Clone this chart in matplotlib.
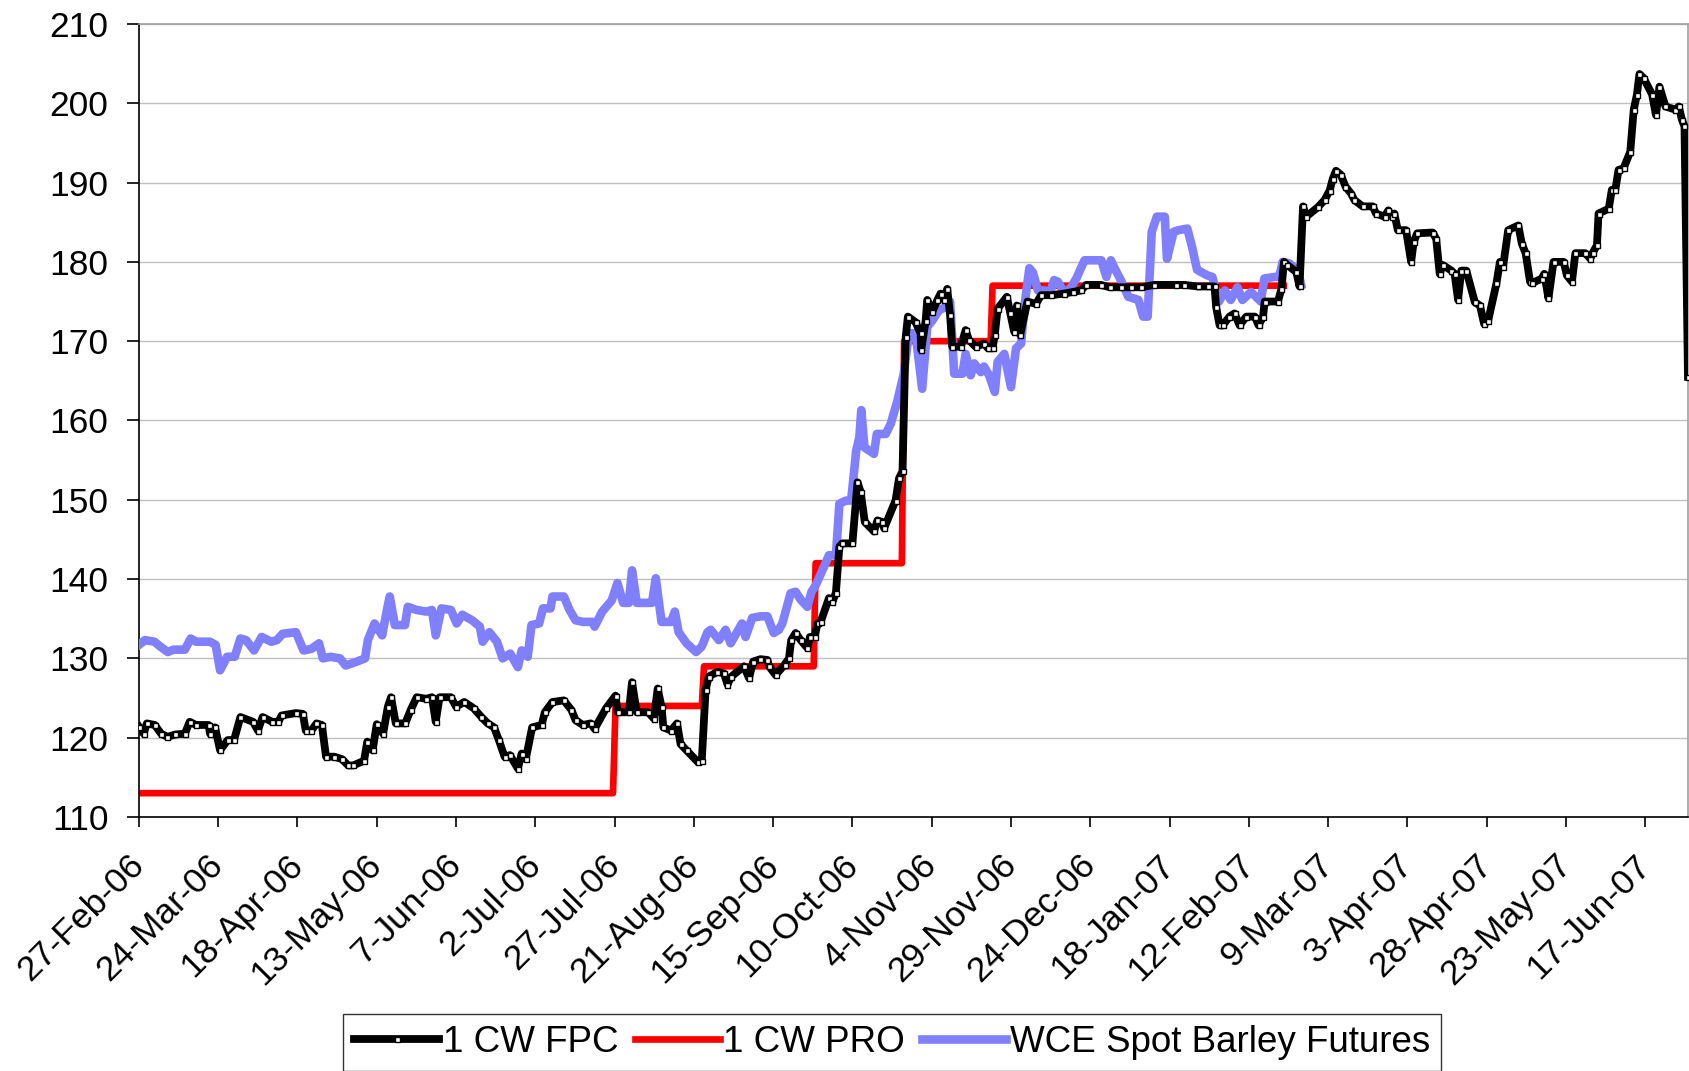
import numpy as np
import matplotlib
matplotlib.use("Agg")
import matplotlib.pyplot as plt
import matplotlib.dates as mdates
import datetime as dt

plt.rcParams['font.family'] = ['Liberation Sans', 'DejaVu Sans']

start_date = dt.date(2006, 2, 27)

# 1 CW FPC: day offset from 27-Feb-06, value
fpc_day = [0, 1.5, 2.5, 5, 7, 9, 11.5, 14.5, 16, 18, 22, 22.4, 24, 25.6, 28, 30, 32, 36, 37.5, 39,
           42, 44, 45, 49.5, 51.7, 52.6, 54.4, 56, 57.7, 59, 61.6, 64, 66, 67.6, 71, 72, 73.7, 75, 77, 78.5,
           79.5, 81, 84, 85.7, 87.6, 90.6, 92.4, 93.6, 94.8, 98.4, 100, 102.6, 105.6, 108, 110, 112, 113.5,
           115.3, 117, 119.5, 120.7, 122, 124, 127, 128, 130.4, 134, 136.4, 137.7, 140, 142.5, 143.7, 147.3,
           150.3, 151, 154.5, 155.5, 157, 160.6, 162.4, 163.6, 164.8, 165.4, 167.8, 169.7, 170.8, 172.7,
           176.3, 177.5, 178.7, 179.7, 182.4, 184.5, 185.6, 186.8, 190.8, 192.4, 193.7, 196, 198.2, 198.7,
           200.8, 203.6, 205, 205.7, 207.1, 208.7, 210.8, 211.6, 213.1, 214, 215, 217.6, 218.7, 219.8, 220.9,
           221.8, 225, 226.6, 227.6, 228.9, 231.8, 232.9, 234.4, 235, 238.6, 239.7, 240.8, 241.8, 242.5,
           244.9, 246.5, 246.7, 248.1, 248.6, 250.2, 251.8, 252.8, 253.9, 254.9, 255.8, 256.5, 259.2, 260.7,
           261.8, 263.9, 266.5, 267.8, 269.2, 269.9, 270.8, 273.7, 274.8, 276, 276.9, 277.9, 280.2, 282.9,
           284.5, 287.6, 291.8, 294.5, 297.1, 298.7, 303.4, 306.1, 309.8, 312.9, 316.1, 320.2, 327.1, 329.7,
           333.9, 337.1, 339.2, 339.7, 340.8, 341.8, 343.9, 345.5, 347.1, 349.2, 351.9, 353.1, 354.5, 355,
           359.2, 360.3, 361.1, 362.2, 365, 366, 367.1, 368.1, 371.8, 373.9, 375.5, 376.5, 377.5, 379, 380.5,
           382.3, 383.3, 385.9, 389.1, 390.1, 392.8, 394, 395.1, 395.9, 397, 399.6, 401.2, 402, 403.1, 408,
           409.1, 410.2, 411.2, 413.9, 414.9, 416, 417, 418.6, 421.3, 422.9, 424.2, 425.5, 428.1, 429.2,
           430.2, 431.8, 435, 436.1, 437.3, 438.7, 439.2, 442.4, 443.2, 444.5, 446.1, 449.3, 450.3, 451.9,
           453, 456.1, 457.7, 458.4, 459.8, 460.3, 463.5, 464.5, 465.6, 466.6, 468.2, 470.3, 471.4, 472.4,
           473.2, 474.5, 477.2, 478.4, 479.5, 481.4, 484.5, 485.6, 486.6, 487.4, 488.5]
fpc_val = [121.4, 120.5, 121.8, 121.6, 120.5, 120.1, 120.4, 120.5, 122.0, 121.6, 121.6, 120.5, 121.3, 118.4,
           119.7, 119.7, 122.6, 122.0, 120.9, 122.6, 122.0, 122.0, 122.8, 123.1, 123.0, 120.9, 120.9, 121.8,
           121.6, 117.6, 117.6, 117.3, 116.5, 116.5, 117.1, 119.5, 118.4, 121.7, 120.5, 123.9, 125.1, 121.8,
           121.8, 123.5, 125.1, 124.9, 125.1, 122.0, 125.1, 125.1, 123.9, 124.5, 123.7, 122.6, 121.8, 121.3,
           119.7, 117.6, 117.8, 116.1, 118.0, 117.3, 121.3, 121.6, 123.2, 124.5, 124.7, 123.5, 122.2, 121.6,
           121.8, 121.1, 123.7, 125.3, 123.2, 123.2, 127.0, 123.2, 123.2, 122.4, 126.2, 123.9, 121.3, 120.9,
           121.8, 119.2, 118.4, 116.9, 117.1, 126.0, 127.7, 128.3, 128.1, 126.7, 127.7, 129.0, 127.5, 129.6,
           129.9, 129.8, 129.0, 127.9, 129.2, 130.0, 132.3, 133.2, 132.3, 131.3, 132.7, 132.7, 134.4, 134.6,
           137.6, 137.1, 138.3, 144.1, 144.5, 144.5, 152.2, 151.0, 147.2, 146.0, 147.4, 147.2, 146.4, 149.9,
           152.7, 153.6, 170.5, 173.1, 172.4, 171.0, 168.9, 172.6, 175.2, 173.7, 175.2, 176.0, 175.2, 176.6,
           173.3, 169.3, 169.3, 171.4, 170.1, 169.3, 169.7, 169.1, 169.1, 170.8, 174.1, 175.6, 173.5, 171.2,
           174.5, 170.8, 175.0, 174.7, 175.8, 175.8, 176.0, 176.2, 176.4, 177.1, 177.1, 176.8, 176.8, 176.8,
           176.8, 177.1, 177.1, 177.1, 176.9, 176.9, 176.9, 174.3, 172.0, 172.0, 173.1, 173.5, 172.0, 173.1,
           173.1, 172.0, 173.1, 175.0, 175.0, 176.6, 180.0, 179.6, 178.7, 176.9, 187.0, 185.7, 186.9, 187.8,
           189.0, 190.5, 191.5, 191.0, 189.5, 188.6, 187.8, 187.0, 187.0, 186.1, 185.7, 186.5, 185.7, 186.1,
           184.0, 184.0, 180.0, 182.5, 183.6, 183.7, 182.9, 178.5, 179.6, 178.9, 178.5, 175.2, 178.9, 178.9,
           174.9, 174.5, 172.2, 172.6, 177.3, 180.0, 179.4, 184.0, 184.6, 182.3, 181.1, 177.5, 177.3, 177.9,
           178.5, 175.4, 180.0, 180.0, 178.3, 177.5, 181.1, 181.1, 180.4, 181.1, 182.1, 186.1, 186.7, 189.1,
           189.1, 191.6, 191.8, 193.9, 199.2, 201.1, 203.7, 203.2, 201.1, 198.5, 202.1, 199.6, 199.2, 199.6,
           197.9, 197.1, 165.5]

# 1 CW PRO: step series
pro_day = [0, 149.5, 150.3, 177.5, 178.2, 212.8, 213.4, 240.6, 241.3, 268.6, 269.2, 361]
pro_val = [113, 113, 124, 124, 129, 129, 142, 142, 170, 170, 177, 177]

# WCE Spot Barley Futures
wce_day = [0, 1.9, 4.9, 6.7, 9.1, 10.9, 14.5, 16.3, 18.1, 22.4, 24.2, 25.6, 27.8, 30.2, 32, 33.8, 36.3,
           38.7, 41.7, 43.5, 45.3, 49.5, 51.9, 54.4, 56.8, 58, 60.4, 63.4, 65.2, 68.8, 71.3, 72.2, 74.3,
           76.7, 78.3, 79.1, 80.7, 83.9, 84.8, 87.6, 90.6, 92.4, 93.6, 95.4, 98.4, 100.2, 102, 105.1, 107.5,
           108.4, 110.5, 112.9, 114.7, 117.1, 119.5, 120.7, 122.6, 123.8, 126.2, 127.4, 129.8, 130.4, 134,
           135.8, 137.7, 140.1, 143.1, 143.7, 146.1, 149.1, 150.9, 152.7, 154.5, 155.5, 157, 161.8, 163,
           164.8, 167.8, 169, 170.2, 172.7, 175.7, 177.5, 179.3, 180.3, 182.9, 185, 186.6, 190.2, 191.3,
           193.4, 196, 198.2, 200.2, 201.8, 202.9, 205.5, 207.1, 208.7, 210.8, 212.1, 213.4, 216.1, 217.6,
           219.8, 220.9, 223, 224.6, 226.2, 227.2, 227.8, 228.8, 231.8, 232.7, 235.5, 237.1, 239.2, 241.2,
           242.8, 244.9, 247, 248.6, 250.2, 252.3, 254.4, 255.8, 257.1, 259.7, 260.7, 262.3, 263.4, 265.5,
           266.5, 268.1, 269.9, 270.8, 272.9, 275, 276.6, 278.2, 279.2, 280.8, 281.9, 283.5, 285.6, 287.2,
           288.6, 289.8, 291.9, 294, 295.6, 298.2, 300.9, 303.5, 305.1, 306.5, 307.7, 309.9, 312, 315.2,
           316.7, 318.1, 319.4, 321, 323.5, 324.2, 326.3, 327.9, 330.6, 332.1, 333.7, 336.9, 338.5, 340.6,
           342.5, 344.3, 346.4, 348, 350.7, 353.8, 354.9, 358.1, 359.6, 360.7, 362.8, 365.5, 366.5]
wce_val = [131.7, 132.3, 132.1, 131.5, 130.8, 131.1, 131.1, 132.5, 132.1, 132.1, 131.7, 128.5, 130.2, 130.2,
           132.5, 132.3, 131.0, 132.7, 132.1, 132.3, 133.1, 133.3, 131.0, 131.2, 131.9, 130.0, 130.2, 130.0,
           129.1, 129.6, 130.0, 132.3, 134.4, 132.9, 136.3, 137.8, 134.2, 134.2, 136.5, 136.1, 135.9, 136.1,
           132.9, 136.3, 136.1, 134.4, 135.5, 134.8, 134.0, 132.1, 133.3, 132.1, 130.0, 130.6, 128.9, 131.0,
           130.2, 134.2, 134.4, 136.3, 136.3, 137.8, 137.8, 136.1, 134.8, 134.6, 134.6, 134.0, 135.9, 137.3,
           139.5, 137.0, 137.0, 141.1, 137.0, 137.0, 140.1, 134.6, 134.6, 135.9, 133.3, 131.9, 130.8, 131.5,
           133.3, 133.6, 132.3, 133.6, 131.9, 134.4, 132.7, 135.1, 135.3, 135.3, 133.2, 133.6, 134.4, 138.2,
           138.4, 137.4, 136.5, 138.4, 139.2, 141.6, 143.0, 143.0, 149.5, 149.9, 149.9, 156.2, 157.9, 161.3,
           156.6, 155.8, 158.3, 158.3, 159.6, 162.5, 165.9, 171.0, 171.0, 164.0, 171.8, 172.6, 173.9, 174.3,
           175.0, 165.9, 165.9, 168.4, 165.7, 167.2, 166.1, 166.8, 165.7, 163.6, 167.4, 168.4, 164.2, 169.1,
           169.7, 174.3, 179.2, 178.7, 176.4, 176.4, 176.0, 177.7, 177.5, 176.0, 176.8, 177.9, 180.2, 180.2,
           180.2, 178.1, 180.2, 179.2, 177.5, 175.6, 175.2, 173.1, 173.1, 183.8, 185.7, 185.7, 180.4, 183.8,
           184.0, 184.2, 181.9, 179.0, 178.3, 178.1, 175.0, 176.4, 175.2, 176.8, 175.2, 176.2, 175.0, 177.9,
           178.1, 178.1, 180.0, 179.8, 178.9, 177.1]

y_ticks = list(range(110, 211, 10))
tick_step_days = 25
n_ticks = 20


def to_dates(days):
    return mdates.date2num(start_date) + np.array(days)


fig = plt.figure(figsize=(16.9, 10.71), dpi=100)
ax = fig.add_axes([0.0822, 0.2372, 0.9166, 0.7404])

l_pro, = ax.plot(to_dates(pro_day), pro_val, color='#ff0000', lw=4.8, zorder=2,
                 solid_joinstyle='round', label='1 CW PRO')
l_wce, = ax.plot(to_dates(wce_day), wce_val, color='#8080ff', lw=6.2, zorder=3,
                 label='WCE Spot Barley Futures')
l_fpc, = ax.plot(to_dates(fpc_day), fpc_val, color='black', lw=5.6, zorder=4,
                 marker='s', markersize=3.6, markerfacecolor='white', markeredgecolor='black',
                 markeredgewidth=1.0, label='1 CW FPC')

ax.set_ylim(110, 210)
ax.set_yticks(y_ticks)
ax.set_xlim(to_dates([0])[0], to_dates([fpc_day[-1]])[0])
ax.set_xticks(to_dates([k * tick_step_days for k in range(n_ticks)]))
ax.xaxis.set_major_formatter(mdates.DateFormatter('%-d-%b-%y'))

ax.grid(axis='y', color='#c0c0c0', lw=1)
ax.set_axisbelow(True)
for s in ['left', 'bottom']:
    ax.spines[s].set_color('black')
    ax.spines[s].set_linewidth(1.2)
for s in ['top', 'right']:
    ax.spines[s].set_color('#a0a0a0')
    ax.spines[s].set_linewidth(1.2)

ax.tick_params(axis='y', labelsize=25.5, length=9, width=1.2, pad=13)
ax.tick_params(axis='x', labelsize=25.5, length=7, width=1.2, pad=24)
for lbl in ax.get_xticklabels():
    lbl.set_rotation(45)
    lbl.set_ha('right')
    lbl.set_va('center')
    lbl.set_rotation_mode('anchor')

leg = fig.legend([l_fpc, l_pro, l_wce], ['1 CW FPC', '1 CW PRO', 'WCE Spot Barley Futures'],
                 loc='lower center', bbox_to_anchor=(0.528, 0.0), ncol=3, fontsize=26.5,
                 frameon=True, fancybox=False, edgecolor='black', handlelength=2.3,
                 handletextpad=0.1, columnspacing=0.45, borderpad=0.3, borderaxespad=0.0)
leg.get_frame().set_linewidth(1.0)

fig.savefig('out.png', dpi=100)
